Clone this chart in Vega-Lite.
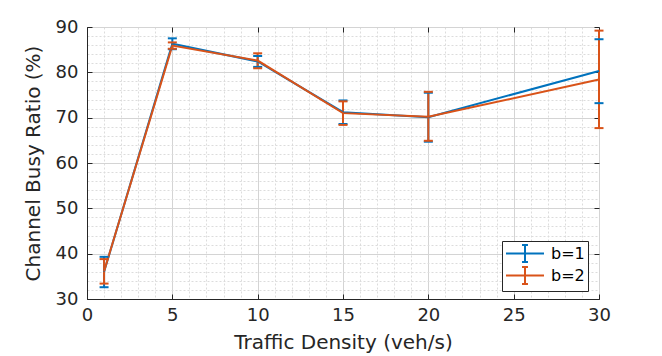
{
  "$schema": "https://vega.github.io/schema/vega-lite/v6.json",
  "autosize": "none",
  "width": 512,
  "height": 272,
  "padding": {"left": 87, "top": 27, "right": 63, "bottom": 57},
  "background": "white",
  "config": {
    "font": "DejaVu Sans",
    "view": {"stroke": "#262626", "strokeWidth": 1},
    "axis": {"labelFont": "DejaVu Sans", "titleFont": "DejaVu Sans", "labelColor": "#262626", "titleColor": "#262626", "domainColor": "#262626", "tickColor": "#262626", "titleFontWeight": "normal"}
  },
  "data": {"values": [
    {"x": 1, "b": "b=1", "mean": 36.0, "lo": 32.6, "hi": 39.3},
    {"x": 5, "b": "b=1", "mean": 86.3, "lo": 85.1, "hi": 87.5},
    {"x": 10, "b": "b=1", "mean": 82.4, "lo": 81.2, "hi": 83.6},
    {"x": 15, "b": "b=1", "mean": 71.2, "lo": 68.6, "hi": 73.8},
    {"x": 20, "b": "b=1", "mean": 70.1, "lo": 64.7, "hi": 75.5},
    {"x": 30, "b": "b=1", "mean": 80.3, "lo": 73.2, "hi": 87.3},
    {"x": 1, "b": "b=2", "mean": 36.1, "lo": 33.4, "hi": 38.8},
    {"x": 5, "b": "b=2", "mean": 85.9, "lo": 85.2, "hi": 86.6},
    {"x": 10, "b": "b=2", "mean": 82.6, "lo": 80.9, "hi": 84.2},
    {"x": 15, "b": "b=2", "mean": 71.0, "lo": 68.4, "hi": 73.6},
    {"x": 20, "b": "b=2", "mean": 70.2, "lo": 64.9, "hi": 75.7},
    {"x": 30, "b": "b=2", "mean": 78.4, "lo": 67.7, "hi": 89.2}
  ]},
  "resolve": {"axis": {"x": "independent", "y": "independent"}},
  "layer": [
    {
      "mark": {"type": "rule", "strokeWidth": 2},
      "encoding": {
        "x": {"field": "x", "type": "quantitative", "scale": {"domain": [0, 30], "nice": false, "zero": false},
          "axis": {"orient": "bottom", "values": [0,1,2,3,4,5,6,7,8,9,10,11,12,13,14,15,16,17,18,19,20,21,22,23,24,25,26,27,28,29,30], "grid": true, "gridColor": "#dcdcdc", "gridDash": [2, 2], "gridWidth": 1, "labels": false, "ticks": false, "domain": false, "title": null}},
        "y": {"field": "lo", "type": "quantitative", "scale": {"domain": [30, 90], "nice": false, "zero": false},
          "axis": {"orient": "left", "values": [30,32,34,36,38,40,42,44,46,48,50,52,54,56,58,60,62,64,66,68,70,72,74,76,78,80,82,84,86,88,90], "grid": true, "gridColor": "#dcdcdc", "gridDash": [2, 2], "gridWidth": 1, "labels": false, "ticks": false, "domain": false, "title": null}},
        "y2": {"field": "hi"},
        "color": {"field": "b", "type": "nominal", "scale": {"domain": ["b=1", "b=2"], "range": ["#0072BD", "#D95319"]},
          "legend": {"title": null, "orient": "none", "legendX": 415, "legendY": 214, "direction": "vertical",
            "symbolType": "M-1,0H3.47M1.235,-1V1M0.885,-1H1.585M0.885,1H1.585", "symbolSize": 289, "symbolStrokeWidth": 2,
            "labelFontSize": 16, "labelColor": "#000000", "labelFont": "DejaVu Sans", "strokeColor": "#262626", "fillColor": "white", "padding": 3, "rowPadding": -16, "labelOffset": 27}}
      }
    },
    {
      "mark": {"type": "line", "strokeWidth": 2},
      "encoding": {
        "x": {"field": "x", "type": "quantitative",
          "axis": {"orient": "bottom", "values": [0,5,10,15,20,25,30], "grid": true, "gridColor": "#d4d4d4", "gridWidth": 1, "tickSize": -5, "tickWidth": 1, "labelPadding": 12, "labelFlush": false, "labelFontSize": 18, "titleFontSize": 20, "titlePadding": 8, "title": "Traffic Density (veh/s)"}},
        "y": {"field": "mean", "type": "quantitative",
          "axis": {"orient": "left", "values": [30,40,50,60,70,80,90], "grid": true, "gridColor": "#d4d4d4", "gridWidth": 1, "tickSize": -5, "tickWidth": 1, "labelPadding": 14, "labelFontSize": 18, "titleFontSize": 20, "titlePadding": 12, "title": "Channel Busy Ratio (%)"}},
        "color": {"field": "b", "type": "nominal"}
      }
    },
    {
      "mark": {"type": "tick", "orient": "horizontal", "size": 9, "thickness": 2, "opacity": 1},
      "encoding": {
        "x": {"field": "x", "type": "quantitative",
          "axis": {"orient": "top", "values": [0,5,10,15,20,25,30], "grid": false, "labels": false, "domain": false, "tickSize": -5, "title": null}},
        "y": {"field": "lo", "type": "quantitative",
          "axis": {"orient": "right", "values": [30,40,50,60,70,80,90], "grid": false, "labels": false, "domain": false, "tickSize": -5, "title": null}},
        "color": {"field": "b", "type": "nominal"}
      }
    },
    {
      "mark": {"type": "tick", "orient": "horizontal", "size": 9, "thickness": 2, "opacity": 1},
      "encoding": {
        "x": {"field": "x", "type": "quantitative", "axis": null},
        "y": {"field": "hi", "type": "quantitative", "axis": null},
        "color": {"field": "b", "type": "nominal"}
      }
    }
  ]
}
